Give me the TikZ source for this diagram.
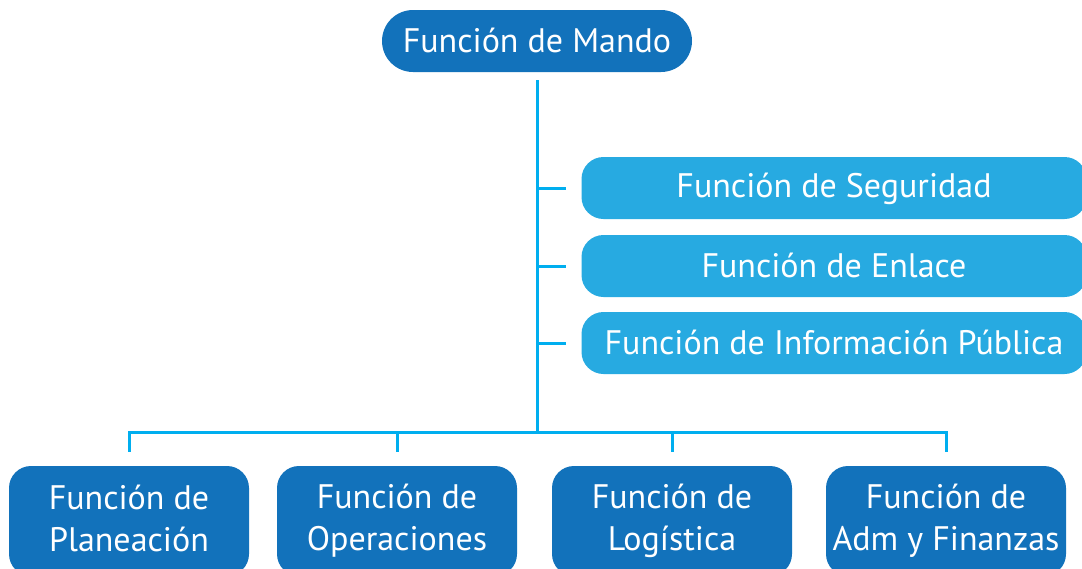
\documentclass[tikz,border=0pt]{standalone}
\usepackage{fontspec}
\setmainfont{PT Sans}
\definecolor{mandoblue}{HTML}{1272BB}
\definecolor{staffblue}{HTML}{27AAE1}
\definecolor{linkblue}{HTML}{00AEEF}
\newcommand{\fstrut}{\rule[-5pt]{0pt}{32pt}}
\begin{document}
\begin{tikzpicture}[x=1pt,y=-1pt,
    box/.style={text=white,inner sep=0pt,align=center,font=\fontsize{34}{42}\selectfont},
    chief/.style={box,fill=mandoblue,minimum width=310pt,minimum height=62pt,rounded corners=31pt},
    staff/.style={box,fill=staffblue,minimum width=505pt,minimum height=62pt,rounded corners=22pt},
    section/.style={box,fill=mandoblue,minimum width=240pt,minimum height=110pt,rounded corners=22pt},
    link/.style={draw=linkblue,line width=3pt}]
  \clip (0,0) rectangle (1082,568);
  \fill[white] (0,0) rectangle (1082,568);

  % mando y staff
  \node[chief] (mando) at (537,41) {Función de Mando\fstrut};
  \node[staff] (seguridad) at (834,188) {Función de Seguridad\fstrut};
  \node[staff] (enlace) at (834,266) {Función de Enlace\fstrut};
  \node[staff] (info) at (834,343) {Función de Información Pública\fstrut};

  % secciones
  \node[section] (planeacion) at (129,521) {Función de\\Planeación\fstrut};
  \node[section] (operaciones) at (397,521) {Función de\\Operaciones\fstrut};
  \node[section] (logistica) at (672,521) {Función de\\Logística\fstrut};
  \node[section] (finanzas) at (946,521) {Función de\\Adm y Finanzas\fstrut};

  \coordinate (bus) at (537,432);

  \draw[link] ([yshift=-8pt]mando.south) -- (bus);
  \draw[link] (seguridad.west -| bus) -- ([xshift=-15pt]seguridad.west);
  \draw[link] (enlace.west -| bus) -- ([xshift=-15pt]enlace.west);
  \draw[link] (info.west -| bus) -- ([xshift=-15pt]info.west);
  \draw[link] ([yshift=14pt]planeacion.north) |- (bus) -| ([yshift=14pt]finanzas.north);
  \draw[link] ([yshift=14pt]operaciones.north) -- (operaciones.north |- bus);
  \draw[link] ([yshift=14pt]logistica.north) -- (logistica.north |- bus);
\end{tikzpicture}
\end{document}
